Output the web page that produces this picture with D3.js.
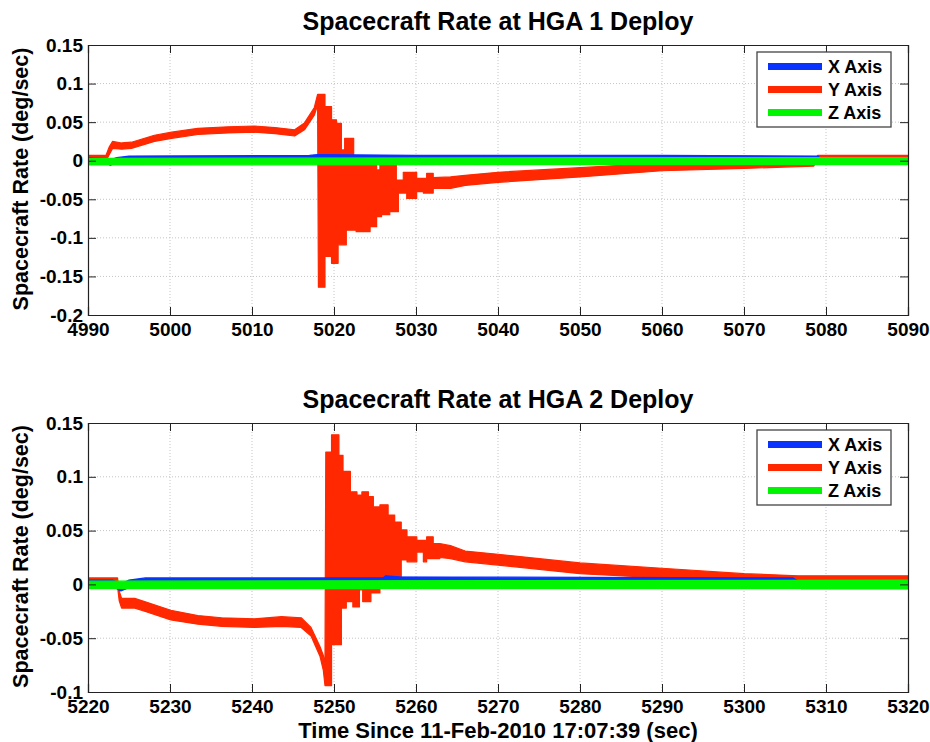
<!DOCTYPE html>
<html>
<head>
<meta charset="utf-8">
<script src="https://cdn.jsdelivr.net/npm/d3@7"></script>
<style>
  body { margin: 0; background: #fff; }
  text { font-family: "Liberation Sans", Arial, sans-serif; font-weight: bold; fill: #000; }
</style>
</head>
<body>
<div id="chart"></div>
<script>
// series are [time, low edge, high edge] of the drawn band (deg/sec)
var hga1Red = [
    [4990, 0.000, 0.007], [4992.2, 0.000, 0.007], [4992.6, 0.008, 0.018], [4993.0, 0.016, 0.025],
    [4994.1, 0.015, 0.023], [4995.3, 0.016, 0.024], [4998.1, 0.025, 0.033], [5000.2, 0.029, 0.037],
    [5003.4, 0.034, 0.042], [5007.1, 0.036, 0.044], [5010.3, 0.037, 0.045], [5012.8, 0.035, 0.043],
    [5015.2, 0.032, 0.040], [5016.4, 0.040, 0.049], [5017.6, 0.059, 0.069], [5018.0, 0.072, 0.086],
    [5018.1, -0.164, 0.086], [5018.9, -0.164, 0.086], [5018.9, -0.124, 0.070], [5019.7, -0.124, 0.070],
    [5019.7, -0.133, 0.053], [5020.3, -0.133, 0.053], [5020.3, -0.133, 0.0485], [5020.5, -0.133, 0.0485],
    [5020.5, -0.109, 0.0485], [5020.9, -0.109, 0.0485], [5020.9, -0.109, 0.014], [5021.3, -0.109, 0.014],
    [5021.3, -0.109, 0.029], [5021.5, -0.109, 0.029], [5021.5, -0.090, 0.029], [5022.4, -0.090, 0.029],
    [5022.4, -0.090, 0.005], [5022.7, -0.090, 0.005], [5022.7, -0.092, 0.005], [5023.4, -0.092, 0.005],
    [5023.4, -0.092, 0.006], [5024.4, -0.092, 0.006], [5024.4, -0.0855, -0.001], [5025.2, -0.0855, -0.001],
    [5025.2, -0.0726, -0.012], [5025.6, -0.0726, -0.012], [5025.6, -0.0726, -0.0035], [5025.8, -0.0726, -0.0035],
    [5025.8, -0.070, -0.0035], [5026.6, -0.070, -0.0035], [5026.6, -0.070, -0.0056], [5026.8, -0.070, -0.0056],
    [5026.8, -0.066, -0.0056], [5027.6, -0.066, -0.0056], [5027.6, -0.066, -0.025], [5027.85, -0.066, -0.025],
    [5027.85, -0.042, -0.025], [5028.45, -0.042, -0.025], [5028.45, -0.042, -0.015], [5028.87, -0.042, -0.015],
    [5028.87, -0.049, -0.015], [5030.08, -0.049, -0.015], [5030.08, -0.040, -0.023], [5030.9, -0.040, -0.023],
    [5030.9, -0.042, -0.023], [5031.3, -0.042, -0.023], [5031.3, -0.042, -0.0164], [5032.1, -0.042, -0.0164],
    [5032.1, -0.036, -0.022], [5034.2, -0.036, -0.021], [5036, -0.032, -0.019], [5040, -0.028, -0.015],
    [5050, -0.021, -0.009], [5060, -0.013, -0.003], [5070, -0.010, -0.001], [5078.5, -0.007, 0.000],
    [5079.0, 0.002, 0.007], [5090, 0.002, 0.007]
];
var hga1Blue = [
    [4990, -0.002, 0.004], [4992.3, -0.002, 0.003], [4992.7, -0.006, 0.001], [4993.5, -0.002, 0.004],
    [4995, 0.000, 0.006], [5017, 0.001, 0.007], [5018, 0.001, 0.008], [5030, 0.000, 0.007],
    [5060, 0.000, 0.007], [5079, 0.000, 0.006], [5079.5, -0.004, 0.002], [5090, -0.004, 0.002]
];
var hga1Green = [
    [4990, -0.0055, 0.003], [5050, -0.005, 0.004], [5090, -0.005, 0.004]
];

var hga2Red = [
    [5220, -0.002, 0.006], [5223.6, -0.002, 0.006], [5223.8, -0.015, -0.006], [5224.1, -0.022, -0.013],
    [5225.7, -0.022, -0.013], [5226.9, -0.025, -0.016], [5230.1, -0.033, -0.024], [5233.4, -0.037, -0.029],
    [5236.3, -0.039, -0.031], [5240.3, -0.040, -0.032], [5243.6, -0.039, -0.030], [5246.0, -0.040, -0.031],
    [5247.2, -0.048, -0.040], [5248.3, -0.067, -0.058], [5248.7, -0.080, -0.066], [5248.9, -0.094, -0.074],
    [5249.0, -0.094, 0.123], [5249.7, -0.094, 0.123], [5249.7, -0.056, 0.139], [5250.6, -0.056, 0.139],
    [5250.6, -0.056, 0.120], [5250.9, -0.056, 0.120], [5250.9, -0.022, 0.120], [5251.1, -0.022, 0.120],
    [5251.1, -0.022, 0.105], [5251.5, -0.022, 0.105], [5251.5, -0.016, 0.105], [5252.0, -0.016, 0.105],
    [5252.0, -0.016, 0.086], [5252.3, -0.016, 0.086], [5252.3, -0.021, 0.086], [5252.8, -0.021, 0.086],
    [5252.8, -0.021, 0.083], [5253.1, -0.021, 0.083], [5253.1, -0.005, 0.083], [5253.4, -0.005, 0.083],
    [5253.4, -0.005, 0.086], [5253.5, -0.005, 0.086], [5253.5, -0.016, 0.086], [5254.2, -0.016, 0.086],
    [5254.2, -0.016, 0.0815], [5254.5, -0.016, 0.0815], [5254.5, -0.008, 0.0815], [5254.8, -0.008, 0.0815],
    [5254.8, -0.008, 0.072], [5255.6, -0.008, 0.072], [5255.6, -0.002, 0.074], [5256.3, -0.002, 0.074],
    [5256.3, 0.007, 0.074], [5256.6, 0.007, 0.074], [5256.6, 0.007, 0.0645], [5257.4, 0.007, 0.0645],
    [5257.4, 0.0055, 0.058], [5258.2, 0.0055, 0.058], [5258.2, 0.0227, 0.0506], [5258.9, 0.0227, 0.0506],
    [5258.9, 0.021, 0.0443], [5260.1, 0.021, 0.0443], [5260.1, 0.030, 0.041], [5260.9, 0.030, 0.041],
    [5260.9, 0.021, 0.041], [5261.3, 0.021, 0.041], [5261.3, 0.024, 0.0443], [5262.1, 0.024, 0.0443],
    [5262.1, 0.024, 0.038], [5262.9, 0.024, 0.038], [5262.9, 0.025, 0.038], [5264.2, 0.024, 0.036],
    [5266, 0.021, 0.031], [5270, 0.018, 0.028], [5280, 0.010, 0.020], [5290, 0.006, 0.015],
    [5300, 0.001, 0.010], [5306.6, 0.000, 0.008], [5320, 0.000, 0.008]
];
var hga2Blue = [
    [5220, -0.002, 0.004], [5223, -0.002, 0.004], [5224, -0.006, 0.000], [5225, -0.003, 0.004],
    [5227, 0.000, 0.006], [5256, 0.000, 0.006], [5256.3, 0.002, 0.008], [5258, 0.001, 0.007],
    [5306, 0.000, 0.006], [5307, -0.004, 0.001], [5320, -0.004, 0.001]
];
var hga2Green = [
    [5220, -0.004, 0.003], [5320, -0.004, 0.004]
];

var titles = ["Spacecraft Rate at HGA 1 Deploy", "Spacecraft Rate at HGA 2 Deploy"];
var xDomains = [[4990, 5090], [5220, 5320]];
var yDomains = [[-0.2, 0.15], [-0.1, 0.15]];
var xTicks1 = [4990, 5000, 5010, 5020, 5030, 5040, 5050, 5060, 5070, 5080, 5090];
var xTicks2 = [5220, 5230, 5240, 5250, 5260, 5270, 5280, 5290, 5300, 5310, 5320];
var yTicks1 = [-0.2, -0.15, -0.1, -0.05, 0, 0.05, 0.1, 0.15];
var yTicks2 = [-0.1, -0.05, 0, 0.05, 0.1, 0.15];
var legendNames = ["X Axis", "Y Axis", "Z Axis"];
var colors = { x: "#0a32ff", y: "#ff2800", z: "#00f500" };

var W = 930, H = 742;
var svg = d3.select("#chart").append("svg")
    .attr("width", W)
    .attr("height", H);

var panels = [
    { top: 45, bottom: 315, xTicks: xTicks1, yTicks: yTicks1, series: [hga1Red, hga1Blue, hga1Green], legendTop: 52 },
    { top: 423, bottom: 692, xTicks: xTicks2, yTicks: yTicks2, series: [hga2Red, hga2Blue, hga2Green], legendTop: 430 }
];
var left = 88, right = 908;
var fmt = function (d) { return String(+d.toFixed(2)); };

panels.forEach(function (p, i) {
    var x = d3.scaleLinear().domain(xDomains[i]).range([left, right]);
    var y = d3.scaleLinear().domain(yDomains[i]).range([p.bottom, p.top]);
    var g = svg.append("g");

    // grid
    g.selectAll(".vgrid").data(p.xTicks.slice(1, -1)).enter().append("line")
        .attr("x1", d => x(d)).attr("x2", d => x(d))
        .attr("y1", p.top).attr("y2", p.bottom)
        .attr("stroke", "#c4c4c4").attr("stroke-dasharray", "1,2");
    g.selectAll(".hgrid").data(p.yTicks.slice(1, -1)).enter().append("line")
        .attr("y1", d => y(d)).attr("y2", d => y(d))
        .attr("x1", left).attr("x2", right)
        .attr("stroke", "#c4c4c4").attr("stroke-dasharray", "1,2");

    // data bands
    svg.append("clipPath").attr("id", "clip" + i).append("rect")
        .attr("x", left).attr("y", p.top).attr("width", right - left).attr("height", p.bottom - p.top);
    var area = d3.area()
        .x(d => x(d[0]))
        .y0(d => y(d[1]))
        .y1(d => y(d[2]));
    var cols = [colors.y, colors.x, colors.z];
    p.series.forEach(function (s, k) {
        g.append("path")
            .datum(s)
            .attr("clip-path", "url(#clip" + i + ")")
            .attr("d", area)
            .attr("fill", cols[k])
            .attr("stroke", cols[k])
            .attr("stroke-width", 1.2)
            .attr("stroke-linejoin", "round");
    });

    // axes with inward ticks, box on all sides
    var tk = 8;
    var fs = "19px";
    g.append("g").attr("transform", "translate(0," + p.bottom + ")")
        .call(d3.axisBottom(x).tickValues(p.xTicks).tickSize(-tk).tickPadding(8).tickFormat(d3.format("d")))
        .call(a => a.selectAll("text").style("font-size", fs).style("font-family", "Liberation Sans, Arial").style("font-weight", "bold").attr("fill", "#000"));
    g.append("g").attr("transform", "translate(0," + p.top + ")")
        .call(d3.axisTop(x).tickValues(p.xTicks).tickSize(-tk).tickFormat(""));
    g.append("g").attr("transform", "translate(" + left + ",0)")
        .call(d3.axisLeft(y).tickValues(p.yTicks).tickSize(-tk).tickPadding(5).tickFormat(fmt))
        .call(a => a.selectAll("text").style("font-size", fs).style("font-family", "Liberation Sans, Arial").style("font-weight", "bold").attr("fill", "#000"));
    g.append("g").attr("transform", "translate(" + right + ",0)")
        .call(d3.axisRight(y).tickValues(p.yTicks).tickSize(-tk).tickFormat(""));
    g.selectAll(".domain").attr("stroke", "#222").attr("stroke-width", 1.2);
    g.selectAll(".tick line").attr("stroke", "#222");

    // title
    g.append("text")
        .attr("x", (left + right) / 2)
        .attr("y", p.top - 15)
        .attr("text-anchor", "middle")
        .style("font-size", "25px")
        .text(titles[i]);

    // y label
    g.append("text")
        .attr("transform", "rotate(-90)")
        .attr("x", -(p.top + p.bottom) / 2 + 1)
        .attr("y", 28)
        .attr("text-anchor", "middle")
        .style("font-size", "21.5px")
        .text("Spacecraft Rate (deg/sec)");

    // legend
    var lg = g.append("g").attr("transform", "translate(757," + p.legendTop + ")");
    lg.append("rect").attr("width", 134).attr("height", 75)
        .attr("fill", "#fff").attr("stroke", "#444").attr("stroke-width", 1.3);
    var lcols = [colors.x, colors.y, colors.z];
    legendNames.forEach(function (n, k) {
        var cy = 14.5 + k * 23;
        lg.append("line").attr("x1", 11).attr("x2", 65).attr("y1", cy).attr("y2", cy)
            .attr("stroke", lcols[k]).attr("stroke-width", 7);
        lg.append("text").attr("x", 71).attr("y", cy + 6.5).style("font-size", "18px").text(n);
    });
});

svg.append("text")
    .attr("x", (left + right) / 2)
    .attr("y", 738)
    .attr("text-anchor", "middle")
    .style("font-size", "22px")
    .text("Time Since 11-Feb-2010 17:07:39 (sec)");
</script>
</body>
</html>
